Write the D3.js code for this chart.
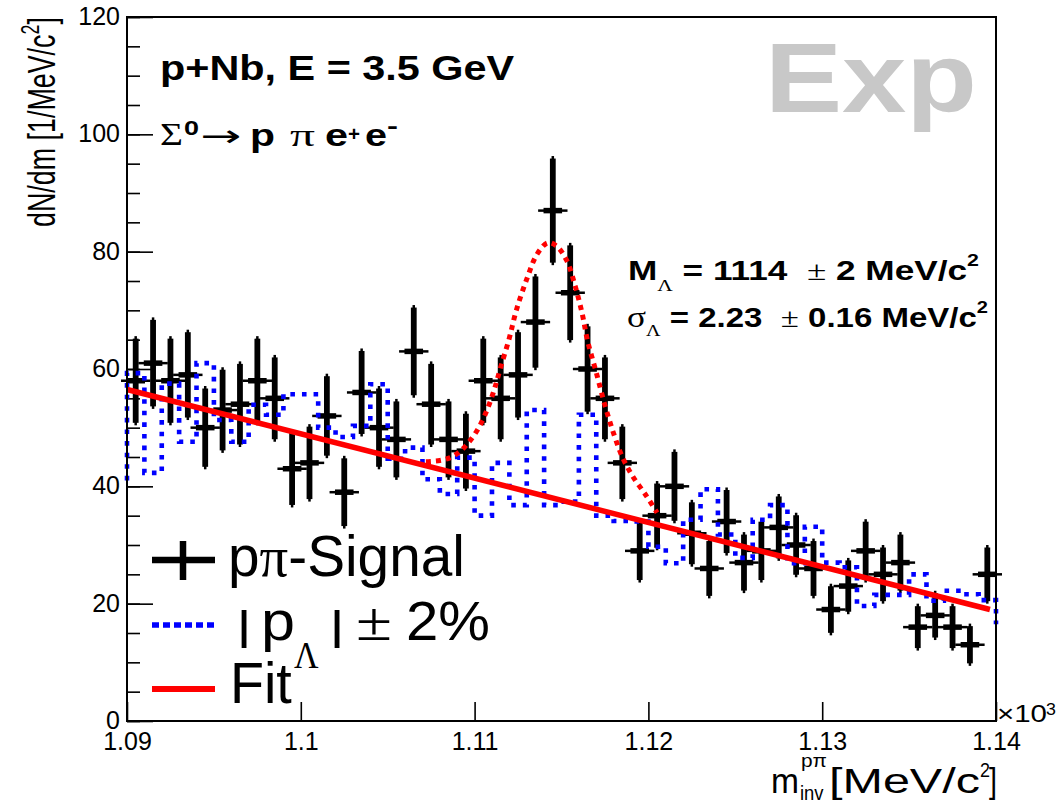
<!DOCTYPE html>
<html><head><meta charset="utf-8">
<script src="https://cdn.jsdelivr.net/npm/d3@7"></script>
<style>
html,body{margin:0;padding:0;background:#fff;}
svg{display:block;}
text{white-space:pre;}
</style></head><body>
<svg id="chart" width="1064" height="808"></svg>
<script>
// ---------------- data ----------------
const binCenters = [1090.5,1091.5,1092.5,1093.5,1094.5,1095.5,1096.5,1097.5,1098.5,1099.5,
  1100.5,1101.5,1102.5,1103.5,1104.5,1105.5,1106.5,1107.5,1108.5,1109.5,
  1110.5,1111.5,1112.5,1113.5,1114.5,1115.5,1116.5,1117.5,1118.5,1119.5,
  1120.5,1121.5,1122.5,1123.5,1124.5,1125.5,1126.5,1127.5,1128.5,1129.5,
  1130.5,1131.5,1132.5,1133.5,1134.5,1135.5,1136.5,1137.5,1138.5,1139.5];
const binWidth = 1;
const signalCounts = [58,61,58,59,50,53,54,58,55,43,
  44,52,39,56,50,48,63,54,48,46,
  58,55,59,68,87,73,60,55,44,29,
  35,40,32,26,34,27,29,33,30,26,
  19,23,29,25,27,16,18,16,13,25];
const signalErrors = [7.6,7.8,7.6,7.7,7.1,7.3,7.3,7.6,7.4,6.6,
  6.6,7.2,6.2,7.5,7.1,6.9,7.9,7.3,6.9,6.8,
  7.6,7.4,7.7,8.2,9.3,8.5,7.7,7.4,6.6,5.4,
  5.9,6.3,5.7,5.1,5.8,5.2,5.4,5.7,5.5,5.1,
  4.4,4.8,5.4,5.0,5.2,4.0,4.2,4.0,3.6,5.0];
const sidebandCounts = [59.3,42.3,57.5,47.6,61.0,51.3,47.6,53.9,52.2,55.7,
  55.7,50.0,48.4,50.3,57.4,44.7,46.6,41.2,38.7,44.9,
  35.0,44.0,36.8,53.0,36.8,37.4,52.2,35.0,34.1,34.0,
  29.7,26.9,34.3,39.5,31.8,27.8,34.3,36.8,26.9,33.1,
  27.0,26.2,19.6,21.5,21.5,25.0,20.5,22.2,21.6,20.6];
const sidebandBelowRange = 41.0;
const sidebandAboveRange = 16.5;
const fitBgMass  = [1090.0, 1139.65];
const fitBgValue = [56.5, 19.0];
const fitPeakMass  = [1107.2,1108.0,1108.6,1109.1,1109.6,1110.1,1110.6,1111.1,1111.5,1112.0,
  1112.4,1113.0,1113.6,1114.2,1114.7,1115.3,1115.8,1116.2,1116.5,1117.0,
  1117.5,1118.0,1118.5,1119.1,1119.9,1120.5];
const fitPeakValue = [44.2,44.4,44.9,45.8,47.3,49.3,52.2,56.2,60.3,65.3,
  70.0,75.3,79.6,81.5,81.0,78.5,74.0,69.3,64.8,59.4,
  53.8,49.0,45.0,41.7,38.3,35.5];
const xTickValues = [1090,1100,1110,1120,1130,1140];
const xTickLabels = ["1.09","1.1","1.11","1.12","1.13","1.14"];
const yTickValues = [0,20,40,60,80,100,120];
const yTickLabels = ["0","20","40","60","80","100","120"];
const yMinorStep = 5;

// ---------------- layout ----------------
const W = 1064, H = 808;
const L = 127, R = 996, T = 17, B = 721;
const SANS = "'Liberation Sans', Arial, Helvetica, sans-serif";
const SERIF = "'Liberation Serif', 'Times New Roman', serif";
const DEJAVU = "'DejaVu Sans', sans-serif";
const BLUE = "#0000ff", RED = "#ff0000";

const svg = d3.select("#chart");
svg.append("rect").attr("width", W).attr("height", H).attr("fill", "#fff");

const x = d3.scaleLinear().domain([1090, 1140]).range([L, R]);
const y = d3.scaleLinear().domain([0, 120]).range([B, T]);

// stretch a text element horizontally so its box spans [l, r]
function fitBox(t, l, r) {
  const bb = t.node().getBBox();
  const sx = (r - l) / bb.width;
  const tx = l - bb.x * sx;
  t.attr("transform", `translate(${tx},0) scale(${sx},1)`);
}
function fitText(parent, str, o) {
  const t = parent.append("text")
    .attr("x", o.x || 0).attr("y", o.base)
    .attr("font-family", o.family || SANS)
    .attr("font-size", o.size)
    .attr("font-weight", o.bold ? "bold" : "normal")
    .attr("fill", o.fill || "#000")
    .attr("text-anchor", o.anchor || "start")
    .text(str);
  if (o.l !== undefined && o.r !== undefined) fitBox(t, o.l, o.r);
  return t;
}
function richLine(parent, parts, base, l, r) {
  const t = parent.append("text").attr("x", 0).attr("y", base).attr("fill", "#000");
  parts.forEach(p => {
    t.append("tspan")
      .attr("font-family", p.family || SANS)
      .attr("font-size", p.size)
      .attr("font-weight", p.bold ? "bold" : "normal")
      .attr("dy", p.dy || 0)
      .text(p.s);
  });
  fitBox(t, l, r);
  return t;
}

// ---------------- big watermark ----------------
fitText(svg, "Exp", {size: 98, bold: true, fill: "#c8c8c8", base: 112, l: 765, r: 977});

// ---------------- axes ----------------
const gy = svg.append("g").attr("transform", `translate(${L},0)`);
gy.call(d3.axisLeft(y).tickValues(d3.range(0, 121, yMinorStep)).tickSizeInner(-13).tickSizeOuter(0).tickFormat(""));
gy.selectAll(".tick line").attr("stroke", "#000").attr("stroke-width", 1.6);
const gy2 = svg.append("g").attr("transform", `translate(${L},0)`);
gy2.call(d3.axisLeft(y).tickValues(yTickValues).tickSizeInner(-26).tickSizeOuter(0).tickPadding(7)
  .tickFormat((d, i) => yTickLabels[i]));
gy2.selectAll(".tick line").attr("stroke", "#000").attr("stroke-width", 1.6);
gy2.selectAll(".tick text").attr("font-family", SANS).attr("font-size", 25).attr("fill", "#000").attr("dy", "0.3em");
gy2.selectAll(".domain").remove(); gy.selectAll(".domain").remove();

const gx = svg.append("g").attr("transform", `translate(0,${B})`);
gx.call(d3.axisBottom(x).tickValues(xTickValues).tickSizeInner(-19).tickSizeOuter(0).tickPadding(12)
  .tickFormat((d, i) => xTickLabels[i]));
gx.selectAll(".tick line").attr("stroke", "#000").attr("stroke-width", 1.6);
gx.selectAll(".tick text").attr("font-family", SANS).attr("font-size", 25).attr("fill", "#000").attr("dy", "0.68em");
gx.selectAll(".domain").remove();

// ---------------- data layers ----------------
const plot = svg.append("g");

// signal points with error bars
const pts = plot.append("g").selectAll("g").data(binCenters).join("g");
pts.append("line")
  .attr("x1", d => x(d)).attr("x2", d => x(d))
  .attr("y1", (d, i) => y(signalCounts[i] + signalErrors[i]))
  .attr("y2", (d, i) => y(signalCounts[i] - signalErrors[i]))
  .attr("stroke", "#000").attr("stroke-width", 2.5);
pts.append("line")
  .attr("x1", d => x(d)).attr("x2", d => x(d))
  .attr("y1", (d, i) => y(signalCounts[i] + signalErrors[i]) + 2.5)
  .attr("y2", (d, i) => y(signalCounts[i] - signalErrors[i]) - 2.5)
  .attr("stroke", "#000").attr("stroke-width", 5.8);
pts.append("line")
  .attr("x1", d => x(d - binWidth * 0.5) - 6).attr("x2", d => x(d + binWidth * 0.5) + 6)
  .attr("y1", (d, i) => y(signalCounts[i])).attr("y2", (d, i) => y(signalCounts[i]))
  .attr("stroke", "#000").attr("stroke-width", 2.5);
pts.append("line")
  .attr("x1", d => x(d - binWidth * 0.5) - 0.6).attr("x2", d => x(d + binWidth * 0.5) + 0.6)
  .attr("y1", (d, i) => y(signalCounts[i])).attr("y2", (d, i) => y(signalCounts[i]))
  .attr("stroke", "#000").attr("stroke-width", 5.5);

// sideband histogram (step outline)
const stepPts = [[binCenters[0] - binWidth / 2, sidebandBelowRange]];
binCenters.forEach((c, i) => {
  stepPts.push([c - binWidth / 2, sidebandCounts[i]]);
  stepPts.push([c + binWidth / 2, sidebandCounts[i]]);
});
stepPts.push([binCenters[binCenters.length - 1] + binWidth / 2, sidebandAboveRange]);
plot.append("path")
  .attr("d", d3.line().x(d => x(d[0])).y(d => y(d[1]))(stepPts))
  .attr("fill", "none").attr("stroke", BLUE).attr("stroke-width", 4.6)
  .attr("stroke-dasharray", "4.6 7");

// background fit line
plot.append("path")
  .attr("d", d3.line().x(d => x(d)).y((d, i) => y(fitBgValue[i]))(fitBgMass))
  .attr("fill", "none").attr("stroke", RED).attr("stroke-width", 5.5);
// signal + background fit (dotted)
plot.append("path")
  .attr("d", d3.line().curve(d3.curveCatmullRom).x(d => x(d)).y((d, i) => y(fitPeakValue[i]))(fitPeakMass))
  .attr("fill", "none").attr("stroke", RED).attr("stroke-width", 5)
  .attr("stroke-dasharray", "5 5");

// frame
svg.append("rect").attr("x", L).attr("y", T).attr("width", R - L).attr("height", B - T)
  .attr("fill", "none").attr("stroke", "#000").attr("stroke-width", 2);

// ---------------- texts ----------------
fitText(svg, "p+Nb, E = 3.5 GeV", {size: 35, bold: true, base: 80, l: 160, r: 515});

// Σ0 → p π e+ e-
fitText(svg, "Σ", {size: 31, family: SERIF, base: 145, l: 160, r: 183});
fitText(svg, "0", {size: 21, bold: true, base: 135, l: 184, r: 199});
fitText(svg, "→", {size: 30, family: DEJAVU, base: 146, l: 200, r: 241});
fitText(svg, "p", {size: 31, bold: true, base: 146, l: 250, r: 275});
fitText(svg, "π", {size: 32, family: SERIF, base: 146, l: 290, r: 315});
fitText(svg, "e", {size: 31, bold: true, base: 146, l: 325, r: 348});
fitText(svg, "+", {size: 21, bold: true, base: 141, l: 348, r: 360});
fitText(svg, "e", {size: 31, bold: true, base: 146, l: 365, r: 387});
fitText(svg, "-", {size: 24, bold: true, base: 134, l: 387, r: 398});

// fit result lines
richLine(svg, [
  {s: "M", size: 28, bold: true},
  {s: "Λ", size: 17, family: SERIF, dy: 11},
  {s: " = 1114  ", size: 28, bold: true, dy: -11},
  {s: "±", size: 28, family: SERIF},
  {s: " 2 MeV/c", size: 28, bold: true},
  {s: "2", size: 17, bold: true, dy: -14}
], 280, 628, 979);
richLine(svg, [
  {s: "σ", size: 30, family: SERIF},
  {s: "Λ", size: 17, family: SERIF, dy: 9},
  {s: " = 2.23  ", size: 28, bold: true, dy: -9},
  {s: "±", size: 28, family: SERIF},
  {s: " 0.16 MeV/c", size: 28, bold: true},
  {s: "2", size: 17, bold: true, dy: -14}
], 327, 627, 988);

// ---------------- legend ----------------
const leg = svg.append("g");
// entry 1: data marker
leg.append("line").attr("x1", 152).attr("x2", 215).attr("y1", 560).attr("y2", 560)
  .attr("stroke", "#000").attr("stroke-width", 6.5);
leg.append("line").attr("x1", 183).attr("x2", 183).attr("y1", 541).attr("y2", 580)
  .attr("stroke", "#000").attr("stroke-width", 6.5);
richLine(leg, [
  {s: "p", size: 57}, {s: "π", size: 57, family: SERIF}, {s: "-Signal", size: 57}
], 576, 228, 465);

// entry 2: sideband
leg.append("line").attr("x1", 152).attr("x2", 215).attr("y1", 625).attr("y2", 625)
  .attr("stroke", BLUE).attr("stroke-width", 5.5).attr("stroke-dasharray", "7 4");
fitText(leg, "|", {size: 40, base: 640, x: 0, anchor: "middle"}).attr("transform", "translate(244,0) scale(1.5,1)");
fitText(leg, "p", {size: 55, base: 640, l: 261, r: 295});
fitText(leg, "Λ", {size: 38, family: SERIF, base: 668, l: 294, r: 319});
fitText(leg, "|", {size: 40, base: 640, x: 0, anchor: "middle"}).attr("transform", "translate(337,0) scale(1.5,1)");
fitText(leg, "±", {size: 55, family: SERIF, base: 640, l: 356, r: 392});
fitText(leg, "2%", {size: 55, base: 640, l: 406, r: 490});

// entry 3: fit
leg.append("line").attr("x1", 152).attr("x2", 215).attr("y1", 689).attr("y2", 689)
  .attr("stroke", RED).attr("stroke-width", 6);
fitText(leg, "Fit", {size: 57, base: 703, l: 230, r: 292});

// ---------------- axis titles ----------------
const yt = svg.append("g").attr("transform", `translate(55,${T}) rotate(-90)`);
const ytt = yt.append("text").attr("y", 0).attr("font-size", 39).attr("font-family", SANS).attr("fill", "#000");
ytt.append("tspan").text("dN/dm [1/MeV/c");
ytt.append("tspan").attr("font-size", 26).attr("dy", -16).text("2");
ytt.append("tspan").attr("dy", 16).text("]");
fitBox(ytt, -210, 0);

fitText(svg, "m", {size: 35, base: 793, l: 771, r: 799});
fitText(svg, "pπ", {size: 19, base: 767, l: 801, r: 827});
fitText(svg, "inv", {size: 21, base: 800, l: 800, r: 824});
fitText(svg, "[MeV/c", {size: 35, base: 793, l: 829, r: 980});
fitText(svg, "2", {size: 20, base: 777, l: 980, r: 990});
fitText(svg, "]", {size: 35, base: 793, l: 989, r: 997});

// ×10^3
fitText(svg, "×10", {size: 23, base: 722, l: 997, r: 1047});
fitText(svg, "3", {size: 16, base: 715, l: 1046, r: 1056});
</script>
</body></html>
